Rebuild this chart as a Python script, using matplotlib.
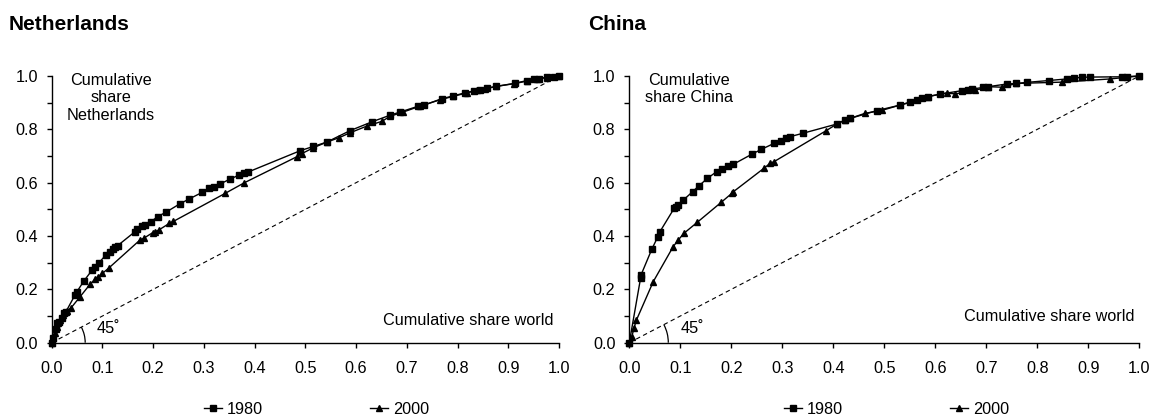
import matplotlib
matplotlib.use("Agg")
import matplotlib.pyplot as plt
from matplotlib.patches import Arc

plt.rcParams['font.family'] = ['Liberation Sans', 'DejaVu Sans']

# ---------------- data ----------------
nl_1980_x = [0, 0.003, 0.008, 0.011, 0.015, 0.02, 0.024, 0.028, 0.046, 0.049, 0.064, 0.08, 0.086,
             0.093, 0.107, 0.115, 0.12, 0.125, 0.13, 0.164, 0.169, 0.178, 0.183, 0.196, 0.209, 0.225,
             0.252, 0.271, 0.297, 0.311, 0.319, 0.332, 0.352, 0.37, 0.38, 0.386, 0.49, 0.516, 0.542,
             0.588, 0.631, 0.667, 0.687, 0.723, 0.733, 0.769, 0.791, 0.815, 0.832, 0.845, 0.858,
             0.876, 0.914, 0.937, 0.95, 0.96, 0.977, 0.99, 1.0]
nl_1980_y = [0, 0.016, 0.05, 0.073, 0.079, 0.091, 0.11, 0.116, 0.179, 0.189, 0.233, 0.273, 0.285,
             0.3, 0.329, 0.341, 0.351, 0.358, 0.364, 0.416, 0.425, 0.439, 0.441, 0.454, 0.473, 0.489,
             0.52, 0.539, 0.564, 0.579, 0.585, 0.595, 0.614, 0.629, 0.635, 0.639, 0.72, 0.736, 0.752,
             0.795, 0.828, 0.853, 0.865, 0.887, 0.89, 0.915, 0.925, 0.937, 0.944, 0.949, 0.954,
             0.961, 0.973, 0.983, 0.987, 0.99, 0.996, 0.998, 1.0]

nl_2000_x = [0, 0.003, 0.007, 0.01, 0.013, 0.016, 0.022, 0.026, 0.031, 0.0375, 0.056, 0.076, 0.086,
             0.092, 0.1, 0.112, 0.174, 0.181, 0.199, 0.204, 0.211, 0.232, 0.24, 0.342, 0.38, 0.483,
             0.493, 0.516, 0.542, 0.567, 0.588, 0.621, 0.651, 0.667, 0.693, 0.726, 0.766, 0.792,
             0.819, 0.838, 0.855, 0.876, 0.911, 0.937, 0.957, 0.977, 1.0]
nl_2000_y = [0, 0.016, 0.035, 0.06, 0.073, 0.085, 0.104, 0.115, 0.12, 0.129, 0.1725, 0.22, 0.239,
             0.248, 0.26, 0.279, 0.385, 0.391, 0.4125, 0.416, 0.4225, 0.4475, 0.455, 0.56, 0.6, 0.697,
             0.709, 0.731, 0.752, 0.769, 0.787, 0.812, 0.83, 0.849, 0.865, 0.887, 0.911, 0.924,
             0.937, 0.946, 0.952, 0.961, 0.971, 0.981, 0.989, 0.994, 1.0]

cn_1980_x = [0, 0.022, 0.023, 0.044, 0.056, 0.06, 0.088, 0.092, 0.096, 0.106, 0.124, 0.137, 0.153,
             0.171, 0.181, 0.194, 0.204, 0.241, 0.259, 0.284, 0.297, 0.307, 0.315, 0.34, 0.407,
             0.423, 0.433, 0.485, 0.531, 0.551, 0.564, 0.574, 0.586, 0.609, 0.652, 0.665, 0.671,
             0.694, 0.704, 0.74, 0.759, 0.779, 0.822, 0.858, 0.871, 0.887, 0.904, 0.966, 0.976, 1.0]
cn_1980_y = [0, 0.241, 0.254, 0.35, 0.3975, 0.416, 0.504, 0.51, 0.516, 0.535, 0.566, 0.589, 0.616,
             0.641, 0.65, 0.6625, 0.669, 0.7075, 0.725, 0.7475, 0.7575, 0.766, 0.7725, 0.785, 0.82,
             0.835, 0.841, 0.87, 0.891, 0.901, 0.91, 0.918, 0.923, 0.932, 0.945, 0.947, 0.951,
             0.957, 0.96, 0.97, 0.972, 0.976, 0.983, 0.989, 0.992, 0.995, 0.996, 0.997, 0.998, 1.0]

cn_2000_x = [0, 0.005, 0.009, 0.014, 0.047, 0.086, 0.096, 0.107, 0.133, 0.18, 0.201, 0.204, 0.264,
             0.276, 0.284, 0.386, 0.407, 0.423, 0.433, 0.462, 0.495, 0.531, 0.586, 0.622, 0.639,
             0.678, 0.704, 0.73, 0.759, 0.848, 0.943, 1.0]
cn_2000_y = [0, 0.0225, 0.054, 0.085, 0.229, 0.36, 0.385, 0.41, 0.451, 0.526, 0.56, 0.566, 0.654,
             0.6725, 0.679, 0.795, 0.82, 0.835, 0.841, 0.86, 0.871, 0.891, 0.923, 0.936, 0.933,
             0.946, 0.96, 0.958, 0.972, 0.977, 0.989, 1.0]

titles = ["Netherlands", "China"]
y_labels = ["Cumulative\nshare\nNetherlands", "Cumulative\nshare China"]
x_label = "Cumulative share world"
series_names = ["1980", "2000"]

# ---------------- figure ----------------
W, H = 1153, 418
fig = plt.figure(figsize=(W / 100, H / 100), dpi=100)

axes_px = [(51.7, 76, 559, 342.7), (629.3, 76, 1139.3, 342.7)]
panels = [
    (nl_1980_x, nl_1980_y, nl_2000_x, nl_2000_y),
    (cn_1980_x, cn_1980_y, cn_2000_x, cn_2000_y),
]
title_x = [9, 588]
ylab_x = [0.116, 0.117]
xlab_y = [0.085, 0.10]
deg_pos = [(0.111, 0.052), (0.123, 0.052)]
arc_r_px = [33.5, 39]
legend_cx = [316.7, 896.7]

FS = 11.7
for i in range(2):
    x0, y0, x1, y1 = axes_px[i]
    ax = fig.add_axes([x0 / W, 1 - y1 / H, (x1 - x0) / W, (y1 - y0) / H])
    ax.set_xlim(0, 1)
    ax.set_ylim(0, 1)
    for s in ['top', 'right']:
        ax.spines[s].set_visible(False)
    for s in ['left', 'bottom']:
        ax.spines[s].set_linewidth(1.0)
    ax.set_xticks([k / 10 for k in range(11)])
    ax.set_xticklabels([f"{k / 10:.1f}" for k in range(11)])
    ax.set_yticks([k / 10 for k in range(0, 11, 2)])
    ax.set_yticklabels([f"{k / 10:.1f}" for k in range(0, 11, 2)])
    ax.set_yticks([k / 10 for k in range(1, 11, 2)], minor=True)
    ax.tick_params(axis='x', direction='out', length=3.5, width=1, labelsize=FS, pad=10)
    ax.tick_params(axis='y', which='both', direction='out', length=3.5, width=1, labelsize=FS, pad=6.5)

    ax.plot([0, 1], [0, 1], color='black', lw=0.8, ls=(0, (4, 3)))

    ax1x, ax1y, ax2x, ax2y = panels[i]
    l1, = ax.plot(ax1x, ax1y, color='black', lw=1.0, marker='s', ms=3.9, label=series_names[0], clip_on=False)
    l2, = ax.plot(ax2x, ax2y, color='black', lw=1.0, marker='^', ms=4.0, label=series_names[1], clip_on=False)

    ax.text(ylab_x[i], 1.012, y_labels[i], ha='center', va='top', fontsize=FS, linespacing=1.2)
    ax.text(0.99, xlab_y[i], x_label, ha='right', va='center', fontsize=FS)
    ax.text(deg_pos[i][0], deg_pos[i][1], "45˚", ha='center', va='center', fontsize=FS)

    ppux = (x1 - x0)
    ppuy = (y1 - y0)
    r = arc_r_px[i]
    ax.add_patch(Arc((0, 0), 2 * r / ppux, 2 * r / ppuy, theta1=0, theta2=45, color='black', lw=0.9))

    fig.text(title_x[i] / W, 1 - 30 / H, titles[i], fontsize=15, fontweight='bold', va='baseline', ha='left')

    fig.legend(handles=[l1, l2], loc='center', bbox_to_anchor=(legend_cx[i] / W, 1 - 409 / H),
               ncol=2, frameon=False, fontsize=FS, handlelength=1.1, handletextpad=0.3,
               columnspacing=6.6, borderpad=0, borderaxespad=0)

fig.savefig("out.png", dpi=100)
